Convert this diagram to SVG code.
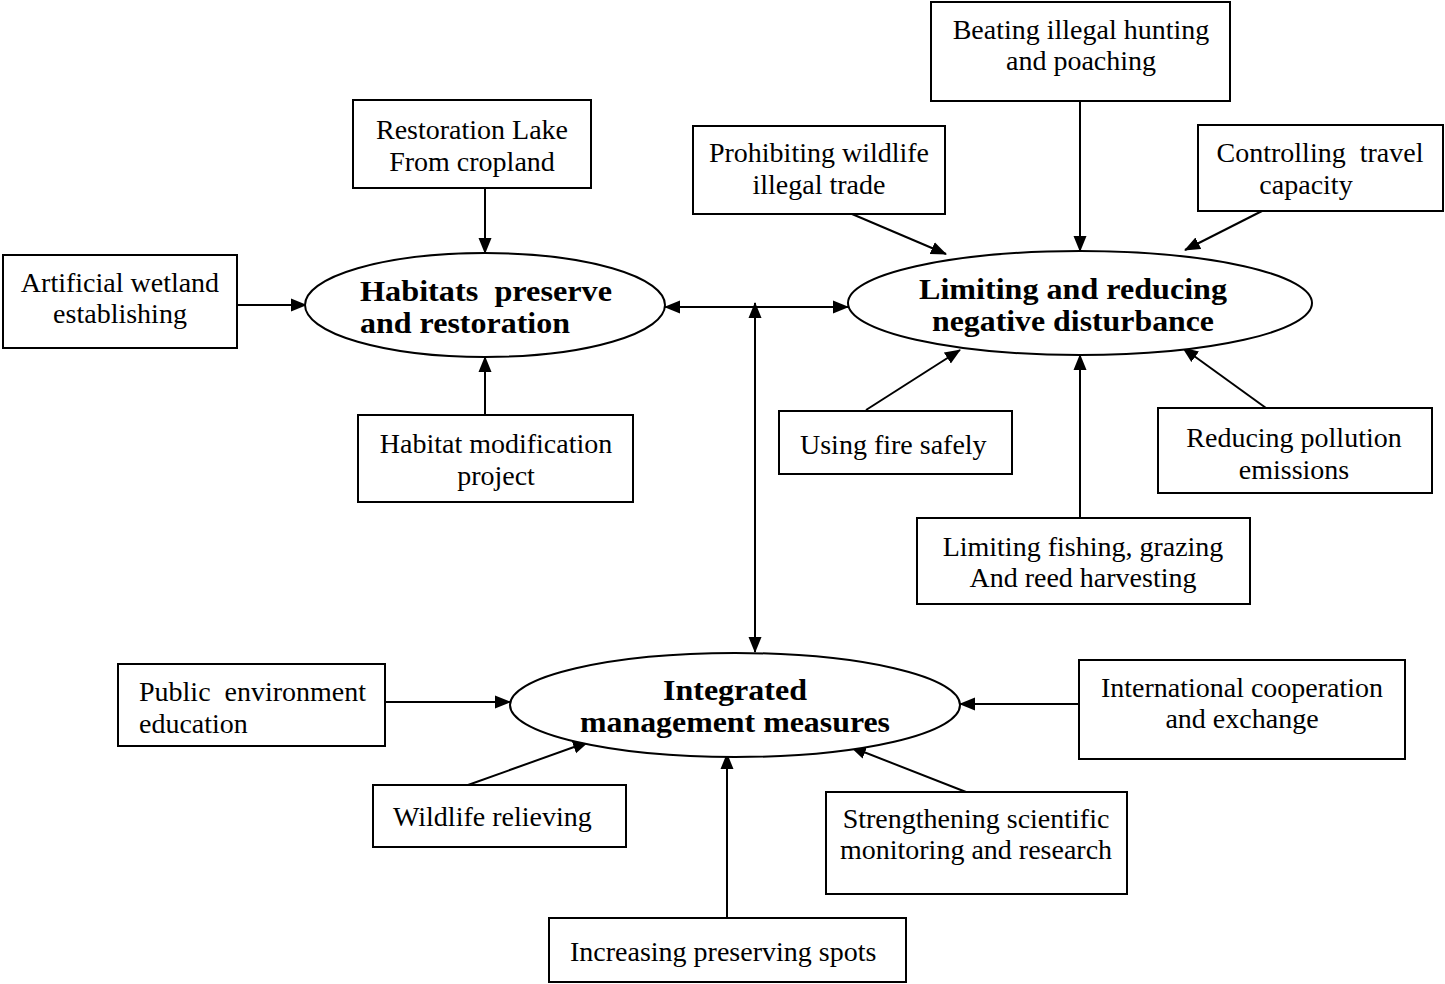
<svg xmlns="http://www.w3.org/2000/svg" width="1445" height="984" viewBox="0 0 1445 984">
<style>
.box{fill:#fff;stroke:#000;stroke-width:2}
.ell{fill:#fff;stroke:#000;stroke-width:2}
text{white-space:pre}
.t{font-family:"Liberation Serif","Times New Roman",serif;font-size:28px;fill:#000}
.c{text-anchor:middle}
.b{font-family:"Liberation Serif","Times New Roman",serif;font-size:29px;font-weight:bold;fill:#000}
.con line{stroke:#000;stroke-width:2;marker-end:url(#ah)}
.con line.dbl{marker-start:url(#ah)}
</style>
<defs>
<marker id="ah" markerUnits="userSpaceOnUse" markerWidth="16" markerHeight="14" refX="15" refY="6.5" orient="auto-start-reverse" viewBox="0 0 16 13">
<path d="M0,0 L16,6.5 L0,13 z" fill="#000"/>
</marker>
</defs>
<rect width="1445" height="984" fill="#fff"/>
<g class="con" id="connectors">
<line x1="485" y1="188" x2="485" y2="253"/>
<line x1="237" y1="305" x2="306" y2="305"/>
<line x1="485" y1="415" x2="485" y2="357"/>
<line x1="1080" y1="101" x2="1080" y2="251"/>
<line x1="852" y1="214" x2="946" y2="254"/>
<line x1="1262" y1="211" x2="1185" y2="250"/>
<line x1="866" y1="410" x2="960" y2="350"/>
<line x1="1266" y1="408" x2="1183" y2="348"/>
<line x1="1080" y1="518" x2="1080" y2="355"/>
<line x1="385" y1="702" x2="510" y2="702"/>
<line x1="1079" y1="704" x2="960" y2="704"/>
<line x1="468" y1="785" x2="588" y2="742"/>
<line x1="966" y1="792" x2="851" y2="747"/>
<line x1="727" y1="918" x2="727" y2="754"/>
<line class="dbl" x1="665" y1="307" x2="848" y2="307"/>
<line class="dbl" x1="755" y1="303" x2="755" y2="652"/>
</g>
<g id="habitats">
<ellipse class="ell" cx="485" cy="305" rx="180" ry="52"/>
<text class="b" x="360" y="301" xml:space="preserve" textLength="252" lengthAdjust="spacingAndGlyphs">Habitats  preserve</text>
<text class="b" x="360" y="333" textLength="210" lengthAdjust="spacingAndGlyphs">and restoration</text>
</g>
<g id="limiting">
<ellipse class="ell" cx="1080" cy="303" rx="232" ry="52"/>
<text class="b" x="919" y="299" textLength="308" lengthAdjust="spacingAndGlyphs">Limiting and reducing</text>
<text class="b" x="932" y="331" textLength="282" lengthAdjust="spacingAndGlyphs">negative disturbance</text>
</g>
<g id="integrated">
<ellipse class="ell" cx="735" cy="705" rx="225" ry="52"/>
<text class="b" x="663" y="700" textLength="144" lengthAdjust="spacingAndGlyphs">Integrated</text>
<text class="b" x="580" y="732" textLength="310" lengthAdjust="spacingAndGlyphs">management measures</text>
</g>
<g id="restoration">
<rect class="box" x="353" y="100" width="238" height="88"/>
<text class="t c" x="472" y="139">Restoration Lake</text>
<text class="t c" x="472" y="171">From cropland</text>
</g>
<g id="artificial">
<rect class="box" x="3" y="255" width="234" height="93"/>
<text class="t c" x="120" y="292">Artificial wetland</text>
<text class="t c" x="120" y="323">establishing</text>
</g>
<g id="habitatmod">
<rect class="box" x="358" y="415" width="275" height="87"/>
<text class="t c" x="496" y="453">Habitat modification</text>
<text class="t c" x="496" y="485">project</text>
</g>
<g id="beating">
<rect class="box" x="931" y="2" width="299" height="99"/>
<text class="t c" x="1081" y="39">Beating illegal hunting</text>
<text class="t c" x="1081" y="70">and poaching</text>
</g>
<g id="prohibiting">
<rect class="box" x="693" y="126" width="252" height="88"/>
<text class="t c" x="819" y="162">Prohibiting wildlife</text>
<text class="t c" x="819" y="194">illegal trade</text>
</g>
<g id="controlling">
<rect class="box" x="1198" y="125" width="245" height="86"/>
<text class="t c" x="1320" y="162" xml:space="preserve">Controlling  travel</text>
<text class="t c" x="1306" y="194">capacity</text>
</g>
<g id="fire">
<rect class="box" x="779" y="411" width="233" height="63"/>
<text class="t" x="800" y="454">Using fire safely</text>
</g>
<g id="pollution">
<rect class="box" x="1158" y="408" width="274" height="85"/>
<text class="t c" x="1294" y="447">Reducing pollution</text>
<text class="t c" x="1294" y="479">emissions</text>
</g>
<g id="fishing">
<rect class="box" x="917" y="518" width="333" height="86"/>
<text class="t c" x="1083" y="556">Limiting fishing, grazing</text>
<text class="t c" x="1083" y="587">And reed harvesting</text>
</g>
<g id="public">
<rect class="box" x="118" y="664" width="267" height="82"/>
<text class="t" x="139" y="701" xml:space="preserve">Public  environment</text>
<text class="t" x="139" y="733">education</text>
</g>
<g id="international">
<rect class="box" x="1079" y="660" width="326" height="99"/>
<text class="t c" x="1242" y="697">International cooperation</text>
<text class="t c" x="1242" y="728">and exchange</text>
</g>
<g id="wildlife">
<rect class="box" x="373" y="785" width="253" height="62"/>
<text class="t" x="393" y="826">Wildlife relieving</text>
</g>
<g id="strengthening">
<rect class="box" x="826" y="792" width="301" height="102"/>
<text class="t c" x="976" y="828">Strengthening scientific</text>
<text class="t c" x="976" y="859">monitoring and research</text>
</g>
<g id="increasing">
<rect class="box" x="549" y="918" width="357" height="64"/>
<text class="t" x="570" y="961">Increasing preserving spots</text>
</g>
</svg>
